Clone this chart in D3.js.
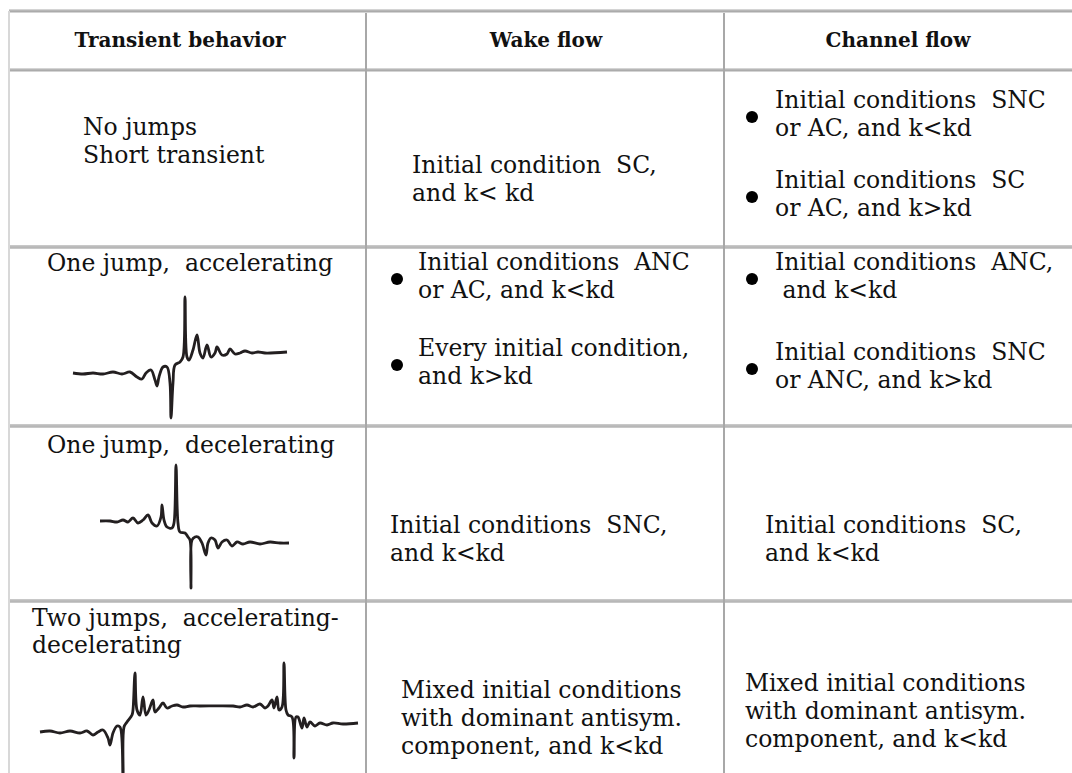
<!DOCTYPE html>
<html>
<head>
<meta charset="utf-8">
<script src="https://cdn.jsdelivr.net/npm/d3@7"></script>
<style>
  body { margin: 0; background: #fff; }
  svg text { font-family: "DejaVu Serif", "Liberation Serif", serif; fill: #111; white-space: pre; }
</style>
</head>
<body>
<div class="graphics"></div>
<script>
// table content
var headers = ["Transient behavior", "Wake flow", "Channel flow"];

var behaviour = [
  ["No jumps", "Short transient"],
  ["One jump,  accelerating"],
  ["One jump,  decelerating"],
  ["Two jumps,  accelerating-", "decelerating"]
];

// each cell: list of bullet groups, each group is a list of lines
var wake = [
  [["Initial condition  SC,", "and k< kd"]],
  [["Initial conditions  ANC", "or AC, and k<kd"], ["Every initial condition,", "and k>kd"]],
  [["Initial conditions  SNC,", "and k<kd"]],
  [["Mixed initial conditions", "with dominant antisym.", "component, and k<kd"]]
];
var channel = [
  [["Initial conditions  SNC", "or AC, and k<kd"], ["Initial conditions  SC", "or AC, and k>kd"]],
  [["Initial conditions  ANC,", " and k<kd"], ["Initial conditions  SNC", "or ANC, and k>kd"]],
  [["Initial conditions  SC,", "and k<kd"]],
  [["Mixed initial conditions", "with dominant antisym.", "component, and k<kd"]]
];

// sketched signals, [t, v] (v grows downward)
var oneJumpAcc = [[13,43],[23,44],[33,43],[43,44],[53,42],[62,44],[70,42],[77,47],[82,49],[86,43],[91,40],[95,50],[97,56],[99,47],[103,37],[107,37],[110,53],[111,88],[113,53],[115,35],[120,32],[123,27],[125,-33],[127,27],[129,30],[133,20],[137,5],[140,23],[143,28],[147,15],[151,27],[155,23],[157,17],[162,25],[167,24],[170,19],[175,24],[180,23],[185,21],[192,23],[198,22],[205,23],[227,22]];
var oneJumpDec = [[10,81],[20,81],[27,82],[33,80],[38,82],[43,78],[48,83],[53,80],[58,75],[62,83],[67,86],[71,77],[72,65],[74,80],[77,87],[82,88],[84,83],[86,25],[88,83],[90,92],[95,93],[98,97],[100,100],[101,148],[102,100],[105,97],[108,97],[112,103],[116,115],[118,103],[121,98],[125,100],[128,108],[132,102],[137,100],[142,106],[147,102],[153,104],[160,102],[170,104],[180,102],[190,103],[199,103]];
var twoJumps = [[40,132],[50,131],[60,133],[70,131],[80,133],[87,131],[93,135],[98,132],[103,130],[108,138],[110,145],[113,133],[117,126],[120,127],[123,175],[124,127],[127,122],[132,115],[133,110],[135,73],[137,110],[140,115],[143,97],[146,115],[149,110],[153,100],[155,112],[159,108],[163,103],[167,108],[172,106],[177,105],[183,107],[190,106],[200,106],[233,106],[240,107],[247,105],[253,107],[260,104],[265,108],[268,106],[272,100],[274,108],[277,97],[279,110],[282,107],[284,63],[286,110],[288,115],[292,117],[294,158],[296,117],[298,117],[302,128],[304,118],[307,127],[310,122],[315,126],[320,123],[327,125],[333,123],[343,124],[358,123]];

// layout
var w = 1072, h = 773;
var colX = [9, 366, 724, 1072];
var rowY = [11, 70, 247, 426, 601, 773];
var fs = 23.5;

var svg = d3.select('.graphics').append('svg')
  .attr('width', w).attr('height', h);

// grid
var hLines = [{y: rowY[0], strong: true}, {y: rowY[1], strong: true}, {y: rowY[2]}, {y: rowY[3]}, {y: rowY[4]}];
hLines.forEach(function(d){
  svg.append('rect').attr('x', colX[0]).attr('y', d.y - 2).attr('width', w - colX[0]).attr('height', 4)
    .attr('fill', d.strong ? '#d4d4d4' : '#c8c8c8');
  svg.append('rect').attr('x', colX[0]).attr('y', d.y - 0.5).attr('width', w - colX[0]).attr('height', 1.2)
    .attr('fill', d.strong ? '#9a9a9a' : '#b0b0b0');
});
svg.append('rect').attr('x', colX[0] - 1).attr('y', rowY[0]).attr('width', 2).attr('height', h - rowY[0]).attr('fill', '#d8d8d8');
[colX[1], colX[2]].forEach(function(x){
  svg.append('rect').attr('x', x - 1).attr('y', rowY[0] + 2).attr('width', 2).attr('height', h - rowY[0]).attr('fill', '#a8a8a8');
});

// header
var headCx = [180, 546, 898];
svg.selectAll('text.head').data(headers).enter().append('text')
  .attr('class', 'head')
  .attr('x', function(d, i){ return headCx[i]; })
  .attr('y', 47)
  .attr('text-anchor', 'middle')
  .attr('font-weight', 'bold')
  .attr('font-size', 20)
  .text(function(d){ return d; });

// first column text
var behPos = [{x: 83, y: [135, 163]}, {x: 47, y: [271]}, {x: 47, y: [453]}, {x: 32, y: [626, 653]}];
behaviour.forEach(function(lines, r){
  lines.forEach(function(t, j){
    svg.append('text').attr('x', behPos[r].x).attr('y', behPos[r].y[j]).attr('font-size', fs).text(t);
  });
});

// cells with optional bullets
function drawCell(groups, pos){
  groups.forEach(function(lines, g){
    var y0 = pos.y[g];
    if (pos.bx) {
      svg.append('circle').attr('cx', pos.bx).attr('cy', y0 + 17).attr('r', 6).attr('fill', '#000');
    }
    lines.forEach(function(t, j){
      svg.append('text').attr('x', pos.x).attr('y', y0 + 8 + j * 28).attr('font-size', fs).text(t);
    });
  });
}
var wakePos = [{x: 412, y: [165]}, {x: 418, bx: 397, y: [262, 348]}, {x: 390, y: [525]}, {x: 401, y: [690]}];
var chanPos = [{x: 775, bx: 752, y: [100, 180]}, {x: 775, bx: 752, y: [262, 352]}, {x: 765, y: [525]}, {x: 745, y: [683]}];
wake.forEach(function(c, r){ drawCell(c, wakePos[r]); });
channel.forEach(function(c, r){ drawCell(c, chanPos[r]); });

// signal sketches
function drawSignal(pts, ox, oy){
  var xs = d3.scaleLinear().domain([0, 100]).range([ox, ox + 100]);
  var ys = d3.scaleLinear().domain([0, 100]).range([oy, oy + 100]);
  var line = d3.line()
    .x(function(d){ return xs(d[0]); })
    .y(function(d){ return ys(d[1]); })
    .curve(d3.curveCatmullRom.alpha(0.5));
  svg.append('path').datum(pts).attr('d', line)
    .attr('fill', 'none').attr('stroke', '#231f20').attr('stroke-width', 2.8)
    .attr('stroke-linejoin', 'round');
}
drawSignal(oneJumpAcc, 60, 330);
drawSignal(oneJumpDec, 90, 440);
drawSignal(twoJumps, 0, 600);
</script>
</body>
</html>
